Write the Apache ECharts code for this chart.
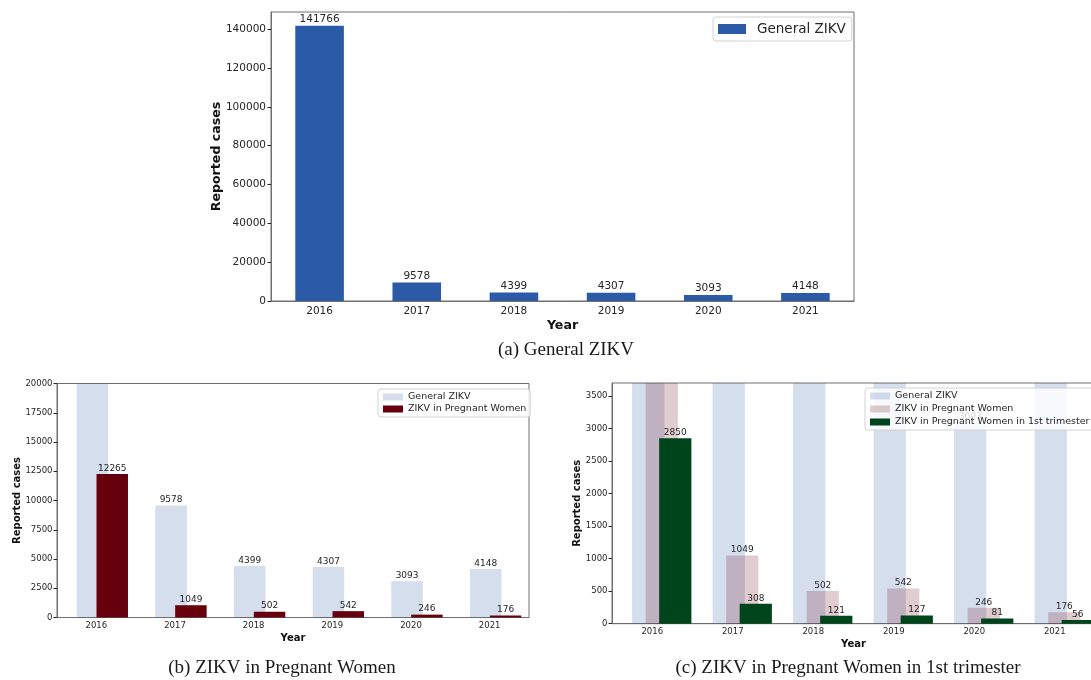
<!DOCTYPE html>
<html>
<head>
<meta charset="utf-8">
<title>ZIKV reported cases</title>
<script src="https://cdn.jsdelivr.net/npm/echarts@6/dist/echarts.min.js"></script>
<style>
  html, body { margin: 0; padding: 0; background: #ffffff; }
  #chart { width: 1091px; height: 680px; }
</style>
</head>
<body>
<div id="chart"></div>
<script>
// Reported ZIKV cases per year, three panels (a), (b), (c)

const years = ['2016', '2017', '2018', '2019', '2020', '2021'];
const generalZikv = [141766, 9578, 4399, 4307, 3093, 4148];
const pregnantZikv = [12265, 1049, 502, 542, 246, 176];
const firstTrimesterZikv = [2850, 308, 121, 127, 81, 56];

// y tick values of each panel
const ticksA = [0, 20000, 40000, 60000, 80000, 100000, 120000, 140000];
const ticksB = [0, 2500, 5000, 7500, 10000, 12500, 15000, 17500, 20000];
const ticksC = [0, 500, 1000, 1500, 2000, 2500, 3000, 3500];

// y limits (panel a: matplotlib auto, 5% above the tallest bar)
const maxA = 148854;
const maxB = 20000;
const maxC = 3700;

const FONT = 'DejaVu Sans';
const palette = {
  text: '#262626',
  frame: '#6f6f6f',
  blue: '#2b5ba6',
  blueFaded: 'rgba(43, 91, 166, 0.2)',
  red: '#67000d',
  redFaded: 'rgba(103, 0, 13, 0.2)',
  green: '#00441b',
  legendBorder: '#d2d2d2'
};

// plot boxes in px; barShift moves the bar group right of the tick
const panelA = { left: 271, top: 12, width: 583, height: 289 };
const panelB = { left: 57, top: 383.5, width: 472, height: 234, barShift: 6 };
const panelC = { left: 612, top: 383, width: 483, height: 240.7, barShift: 9.5 };

// -------------------------------------------------------------------------
// Builders
// -------------------------------------------------------------------------

function frameGrid(p) {
  return {
    left: p.left, top: p.top, width: p.width, height: p.height,
    show: true, borderColor: palette.frame, borderWidth: 1,
    backgroundColor: 'transparent', outerBoundsMode: 'none'
  };
}

function barGrid(p) {
  return {
    left: p.left + p.barShift, top: p.top, width: p.width, height: p.height,
    show: false, outerBoundsMode: 'none'
  };
}

function yearAxis(gridIndex, fontSize, margin, nameGap, nameSize) {
  return {
    type: 'category',
    gridIndex,
    data: years,
    axisLine: { lineStyle: { color: palette.frame, width: 1 } },
    axisTick: { alignWithLabel: true, length: 3.5, lineStyle: { color: palette.text } },
    axisLabel: { fontSize, margin, color: palette.text, fontFamily: FONT },
    name: 'Year',
    nameLocation: 'middle',
    nameGap,
    nameMoveOverlap: false,
    nameTextStyle: { fontWeight: 'bold', fontSize: nameSize, color: '#111', fontFamily: FONT }
  };
}

function casesAxis(gridIndex, max, ticks, fontSize, margin, nameGap, nameSize) {
  return {
    type: 'value',
    gridIndex,
    min: 0,
    max,
    axisLine: { show: true, lineStyle: { color: palette.frame, width: 1 } },
    axisTick: { show: true, length: 3.5, customValues: ticks, lineStyle: { color: palette.text } },
    axisLabel: {
      customValues: ticks,
      fontSize, margin,
      color: palette.text,
      fontFamily: FONT,
      formatter: v => String(v)
    },
    splitLine: { show: false },
    name: 'Reported cases',
    nameLocation: 'middle',
    nameRotate: 90,
    nameGap,
    nameMoveOverlap: false,
    nameTextStyle: { fontWeight: 'bold', fontSize: nameSize, color: '#111', fontFamily: FONT }
  };
}

function hiddenYearAxis(gridIndex) {
  return { type: 'category', gridIndex, data: years, show: false };
}

function hiddenCasesAxis(gridIndex, max) {
  return { type: 'value', gridIndex, min: 0, max, show: false, splitLine: { show: false } };
}

function bars(name, data, axisIndex, color, max, fontSize, barWidth, barGap) {
  return {
    name,
    type: 'bar',
    xAxisIndex: axisIndex,
    yAxisIndex: axisIndex,
    data,
    barWidth,
    barGap,
    itemStyle: { color },
    label: {
      show: true,
      position: 'top',
      distance: 1,
      fontSize,
      fontFamily: FONT,
      color: palette.text,
      // bars cut by the top of the plot keep no label
      formatter: p => (p.value > max ? '' : String(p.value))
    },
    emphasis: { disabled: true }
  };
}

function legendBox(left, top, items, fontSize, itemWidth, itemHeight, itemGap, padding, textPad) {
  return {
    left, top,
    orient: 'vertical',
    selectedMode: false,
    icon: 'rect',
    itemWidth, itemHeight, itemGap, padding,
    data: items,
    textStyle: { fontSize, fontFamily: FONT, color: palette.text, padding: [0, 0, 0, textPad || 0] },
    backgroundColor: 'rgba(255, 255, 255, 0.8)',
    borderColor: palette.legendBorder,
    borderWidth: 1,
    borderRadius: 3
  };
}

function caption(text, x, y) {
  return {
    type: 'text',
    x, y,
    style: {
      text,
      fill: '#1a1a1a',
      font: '19px "Liberation Serif", "DejaVu Serif", serif',
      align: 'center',
      verticalAlign: 'middle'
    }
  };
}

// -------------------------------------------------------------------------
// Option
// -------------------------------------------------------------------------

const option = {
  backgroundColor: '#ffffff',
  animation: false,
  grid: [
    frameGrid(panelA),   // 0
    frameGrid(panelB),   // 1
    barGrid(panelB),     // 2
    frameGrid(panelC),   // 3
    barGrid(panelC)      // 4
  ],
  xAxis: [
    yearAxis(0, 10.5, 5, 18.5, 12.6),
    yearAxis(1, 8.5, 4, 16, 10),
    hiddenYearAxis(2),
    yearAxis(3, 8.5, 4, 16, 10),
    hiddenYearAxis(4)
  ],
  yAxis: [
    casesAxis(0, maxA, ticksA, 10.5, 5, 48, 12.6),
    casesAxis(1, maxB, ticksB, 8.5, 4.5, 35, 10),
    hiddenCasesAxis(2, maxB),
    casesAxis(3, maxC, ticksC, 8.5, 4.5, 30, 10),
    hiddenCasesAxis(4, maxC)
  ],
  legend: [
    legendBox(713, 17, [{ name: 'General ZIKV', itemStyle: { color: palette.blue } }],
      13.5, 28, 10, 5, [5, 6, 5, 5], 6),
    legendBox(378, 389, [
      { name: 'General ZIKV', itemStyle: { color: palette.blueFaded } },
      { name: 'ZIKV in Pregnant Women', itemStyle: { color: palette.red } }
    ], 9.5, 20, 7, 2, [3, 4, 3, 5]),
    legendBox(865, 388, [
      { name: 'General ZIKV', itemStyle: { color: palette.blueFaded } },
      { name: 'ZIKV in Pregnant Women', itemStyle: { color: palette.redFaded } },
      { name: 'ZIKV in Pregnant Women in 1st trimester', itemStyle: { color: palette.green } }
    ], 9.5, 20, 7, 3, [3, 5, 3, 5])
  ],
  series: [
    // (a)
    bars('General ZIKV', generalZikv, 0, palette.blue, maxA, 10.5, '50%'),
    // (b)
    bars('General ZIKV', generalZikv, 2, palette.blueFaded, maxB, 9, '40%', '-37%'),
    bars('ZIKV in Pregnant Women', pregnantZikv, 2, palette.red, maxB, 9, '40%', '-37%'),
    // (c)
    bars('General ZIKV', generalZikv, 4, palette.blueFaded, maxC, 9, '40%', '-58%'),
    bars('ZIKV in Pregnant Women', pregnantZikv, 4, palette.redFaded, maxC, 9, '40%', '-58%'),
    bars('ZIKV in Pregnant Women in 1st trimester', firstTrimesterZikv, 4, palette.green, maxC, 9, '40%', '-58%')
  ],
  graphic: [
    caption('(a) General ZIKV', 566, 350),
    caption('(b) ZIKV in Pregnant Women', 282, 668),
    caption('(c) ZIKV in Pregnant Women in 1st trimester', 848, 668)
  ]
};

const chart = echarts.init(document.getElementById('chart'), null, { renderer: 'canvas' });
chart.setOption(option);
</script>
</body>
</html>
